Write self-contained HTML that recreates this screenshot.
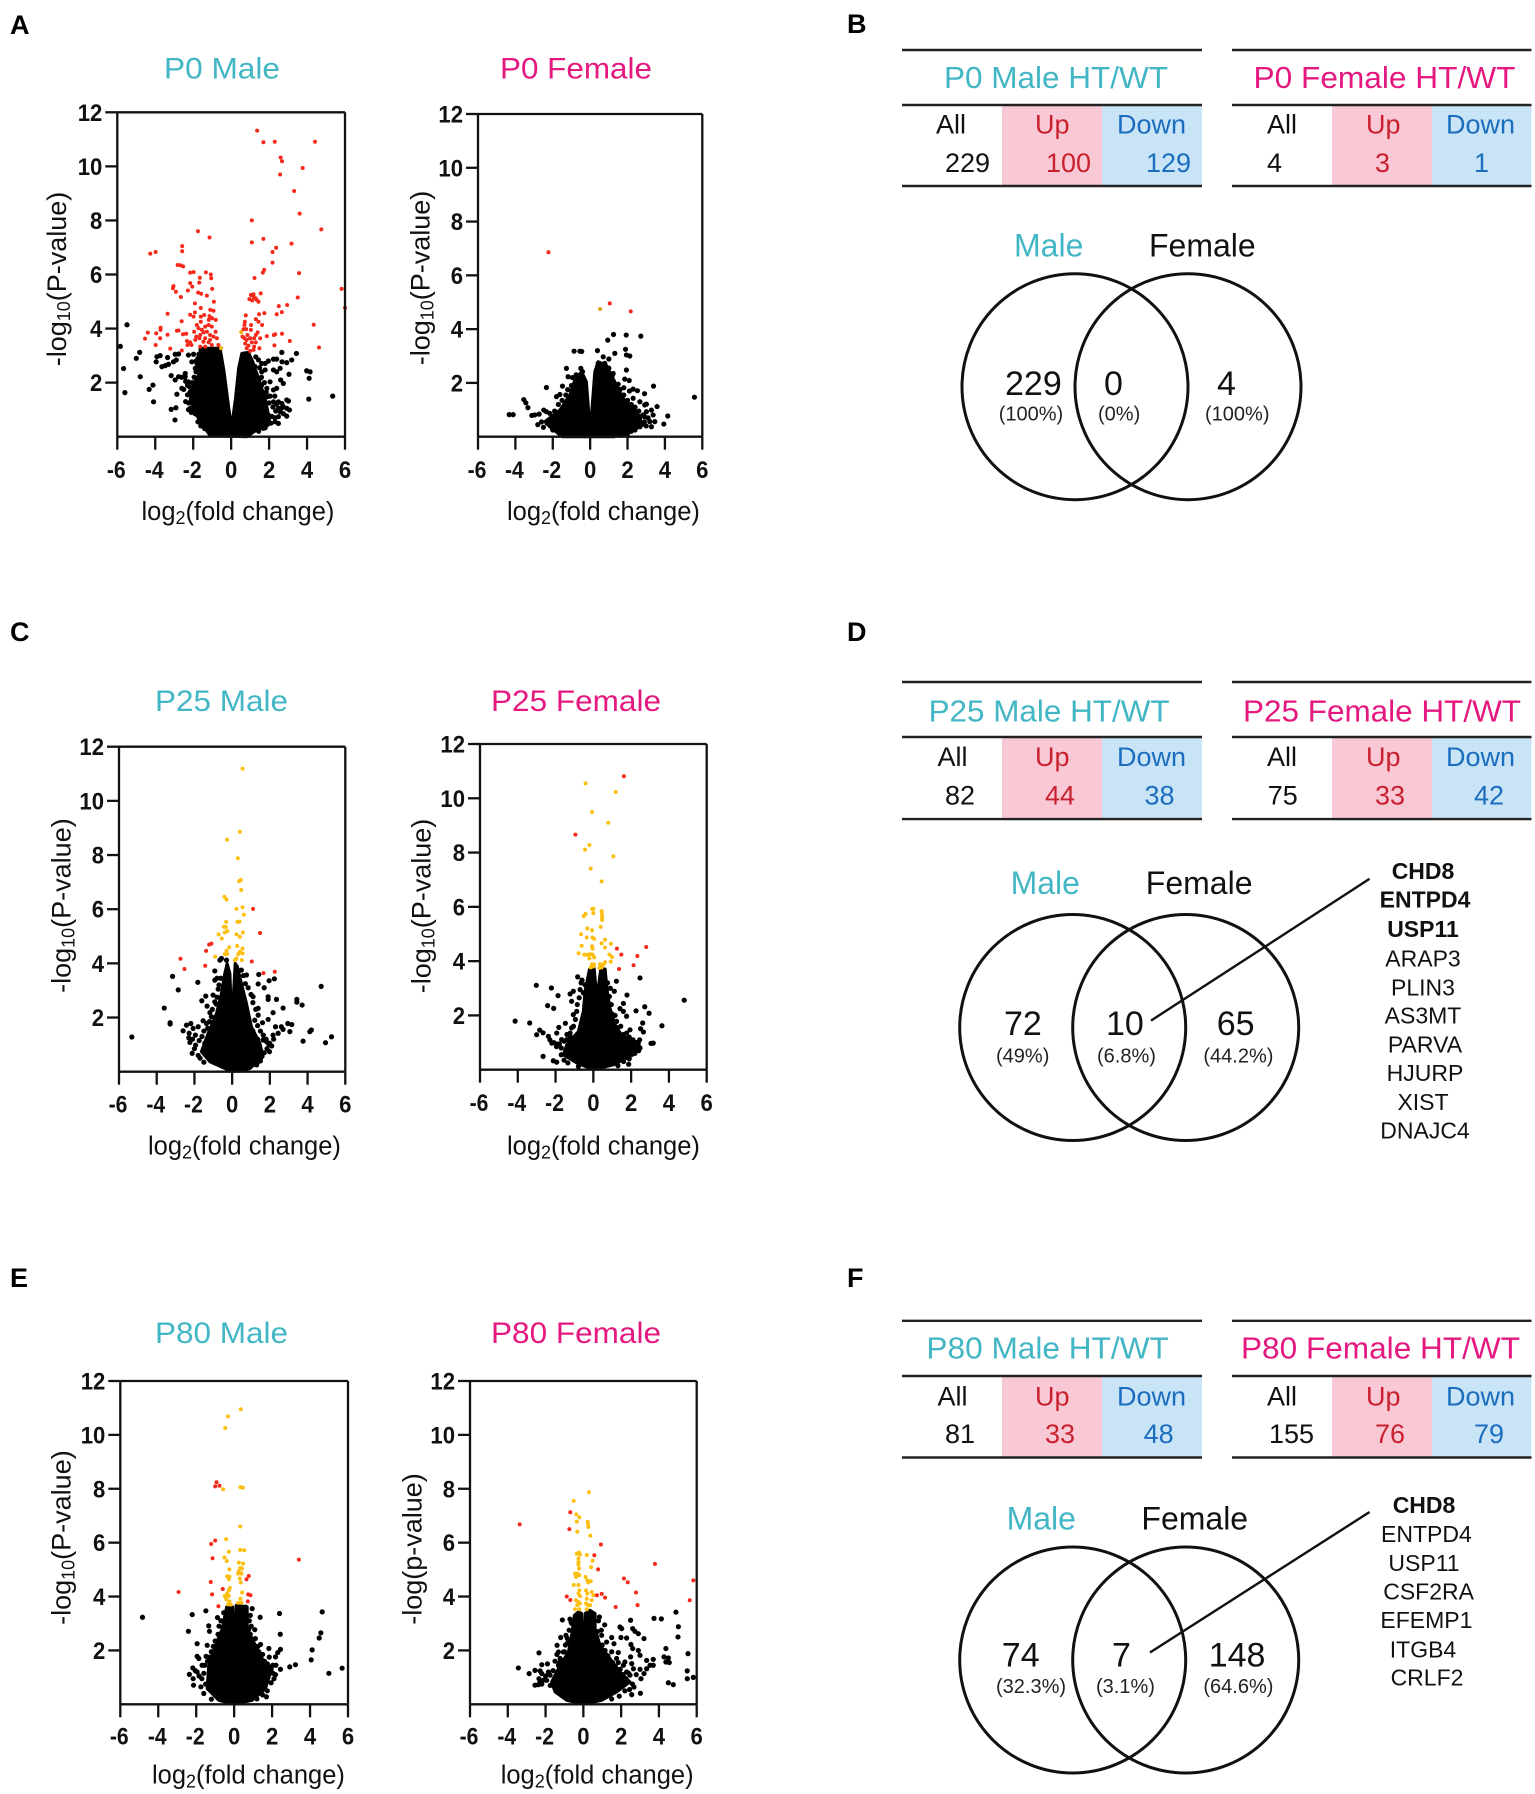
<!DOCTYPE html>
<html lang="en">
<head>
<meta charset="utf-8">
<title>Volcano plots and Venn diagrams</title>
<style>
html,body{margin:0;padding:0;background:#fff;}
svg{display:block;font-family:"Liberation Sans",Arial,sans-serif;}
.panel{font-size:27px;font-weight:bold;fill:#000;}
.t{font-size:30px;}
.tt{font-size:31px;}
.c{font-size:27px;}
.vh{font-size:32px;}
.vn{font-size:34px;fill:#111;}
.vp{font-size:20px;fill:#222;}
.g{font-size:23px;fill:#111;text-anchor:middle;}
.b{font-weight:bold;}
.ax{font-size:25.5px;fill:#111;}
.ay{font-size:27px;fill:#111;text-anchor:middle;}
.teal{fill:#42b6c4;}
.pink{fill:#e4187f;}
.red{fill:#c9202f;}
.blue{fill:#1b6dbd;}
.k{fill:#111;}
.ln{stroke:#222;stroke-width:2.4;}
.pk{fill:#f8c9d4;}
.bl{fill:#c9e3f7;}
.vc{fill:none;stroke:#111;stroke-width:3;}
.ld{stroke:#111;stroke-width:2.4;}
</style>
</head>
<body>
<svg id="figure" xmlns="http://www.w3.org/2000/svg" width="1535" height="1794" viewBox="0 0 1535 1794">
<rect x="0" y="0" width="1535" height="1794" fill="#fff"/>

<text class="panel" x="10" y="34">A</text>
<text class="panel" x="847" y="33">B</text>
<text class="panel" x="10" y="641">C</text>
<text class="panel" x="847" y="641">D</text>
<text class="panel" x="10" y="1287">E</text>
<text class="panel" x="847" y="1287">F</text>

<!-- Volcano titles and axis titles -->
<text class="t teal" x="164" y="78.5" textLength="116" lengthAdjust="spacingAndGlyphs">P0 Male</text>
<text class="t pink" x="500" y="78.5" textLength="152" lengthAdjust="spacingAndGlyphs">P0 Female</text>
<text class="t teal" x="155" y="711" textLength="133" lengthAdjust="spacingAndGlyphs">P25 Male</text>
<text class="t pink" x="491" y="711" textLength="170" lengthAdjust="spacingAndGlyphs">P25 Female</text>
<text class="t teal" x="155" y="1343" textLength="133" lengthAdjust="spacingAndGlyphs">P80 Male</text>
<text class="t pink" x="491" y="1343" textLength="170" lengthAdjust="spacingAndGlyphs">P80 Female</text>

<text class="ax" x="141.5" y="520">log<tspan font-size="18" dy="4">2</tspan><tspan dy="-4">(fold change)</tspan></text>
<text class="ax" x="507" y="520">log<tspan font-size="18" dy="4">2</tspan><tspan dy="-4">(fold change)</tspan></text>
<text class="ax" x="148" y="1154.4">log<tspan font-size="18" dy="4">2</tspan><tspan dy="-4">(fold change)</tspan></text>
<text class="ax" x="507" y="1154.4">log<tspan font-size="18" dy="4">2</tspan><tspan dy="-4">(fold change)</tspan></text>
<text class="ax" x="152" y="1783.7">log<tspan font-size="18" dy="4">2</tspan><tspan dy="-4">(fold change)</tspan></text>
<text class="ax" x="500.7" y="1783.7">log<tspan font-size="18" dy="4">2</tspan><tspan dy="-4">(fold change)</tspan></text>

<text class="ay" transform="translate(66,279) rotate(-90)">-log<tspan font-size="18" dy="4">10</tspan><tspan dy="-4">(P-value)</tspan></text>
<text class="ay" transform="translate(429.4,278) rotate(-90)">-log<tspan font-size="18" dy="4">10</tspan><tspan dy="-4">(P-value)</tspan></text>
<text class="ay" transform="translate(70.3,905.6) rotate(-90)">-log<tspan font-size="18" dy="4">10</tspan><tspan dy="-4">(P-value)</tspan></text>
<text class="ay" transform="translate(430.4,906) rotate(-90)">-log<tspan font-size="18" dy="4">10</tspan><tspan dy="-4">(P-value)</tspan></text>
<text class="ay" transform="translate(70.3,1537.6) rotate(-90)">-log<tspan font-size="18" dy="4">10</tspan><tspan dy="-4">(P-value)</tspan></text>
<text class="ay" transform="translate(421.7,1549) rotate(-90)">-log(p-value)</text>

<g id="charts"></g>

<!-- Panel B tables -->
<g transform="translate(0,1)">
<rect class="pk" x="1002" y="104" width="100" height="80"/>
<rect class="bl" x="1102" y="104" width="100" height="80"/>
<line class="ln" x1="902" x2="1202" y1="49" y2="49"/>
<line class="ln" x1="902" x2="1202" y1="104" y2="104"/>
<line class="ln" x1="902" x2="1202" y1="185" y2="185"/>
<text class="tt teal" x="944" y="87.2" textLength="224" lengthAdjust="spacingAndGlyphs">P0 Male HT/WT</text>
<text class="c k" x="936" y="132.6">All</text>
<text class="c red" x="1035" y="132.6">Up</text>
<text class="c blue" x="1117" y="132.6">Down</text>
<text class="c k" x="945" y="170.8">229</text>
<text class="c red" x="1046" y="170.8">100</text>
<text class="c blue" x="1146" y="170.8">129</text>
</g>
<g transform="translate(0,1)">
<rect class="pk" x="1332" y="104" width="100" height="80"/>
<rect class="bl" x="1432" y="104" width="99.5" height="80"/>
<line class="ln" x1="1232" x2="1531.5" y1="49" y2="49"/>
<line class="ln" x1="1232" x2="1531.5" y1="104" y2="104"/>
<line class="ln" x1="1232" x2="1531.5" y1="185" y2="185"/>
<text class="tt pink" x="1253.5" y="87.2" textLength="262" lengthAdjust="spacingAndGlyphs">P0 Female HT/WT</text>
<text class="c k" x="1267" y="132.6">All</text>
<text class="c red" x="1366" y="132.6">Up</text>
<text class="c blue" x="1446" y="132.6">Down</text>
<text class="c k" x="1267" y="170.8">4</text>
<text class="c red" x="1375" y="170.8">3</text>
<text class="c blue" x="1474" y="170.8">1</text>
</g>

<!-- Panel B venn -->
<g transform="translate(0,2)">
<circle class="vc" cx="1075" cy="384.7" r="113"/>
<circle class="vc" cx="1188" cy="384.7" r="113"/>
<text class="vh teal" x="1014" y="254.7">Male</text>
<text class="vh k" x="1149" y="254.7">Female</text>
<text class="vn" x="1005" y="393">229</text>
<text class="vn" x="1104" y="393">0</text>
<text class="vn" x="1217" y="393">4</text>
<text class="vp" x="998.7" y="418.5">(100%)</text>
<text class="vp" x="1098" y="418.5">(0%)</text>
<text class="vp" x="1205" y="418.5">(100%)</text>
</g>

<!-- Panel D tables -->
<g transform="translate(0,0.6)">
<rect class="pk" x="1002" y="737" width="100" height="81"/>
<rect class="bl" x="1102" y="737" width="100" height="81"/>
<line class="ln" x1="902" x2="1202" y1="681.4" y2="681.4"/>
<line class="ln" x1="902" x2="1202" y1="736.4" y2="736.4"/>
<line class="ln" x1="902" x2="1202" y1="818.5" y2="818.5"/>
<text class="tt teal" x="928.6" y="720.7" textLength="241" lengthAdjust="spacingAndGlyphs">P25 Male HT/WT</text>
<text class="c k" x="937.5" y="765.3">All</text>
<text class="c red" x="1035" y="765.3">Up</text>
<text class="c blue" x="1117" y="765.3">Down</text>
<text class="c k" x="945" y="803.9">82</text>
<text class="c red" x="1045" y="803.9">44</text>
<text class="c blue" x="1144.5" y="803.9">38</text>
</g>
<g transform="translate(0,0.6)">
<rect class="pk" x="1332" y="737" width="100" height="81"/>
<rect class="bl" x="1432" y="737" width="99.5" height="81"/>
<line class="ln" x1="1232" x2="1531.5" y1="681.4" y2="681.4"/>
<line class="ln" x1="1232" x2="1531.5" y1="736.4" y2="736.4"/>
<line class="ln" x1="1232" x2="1531.5" y1="818.5" y2="818.5"/>
<text class="tt pink" x="1243" y="720.7" textLength="278" lengthAdjust="spacingAndGlyphs">P25 Female HT/WT</text>
<text class="c k" x="1267" y="765.3">All</text>
<text class="c red" x="1366" y="765.3">Up</text>
<text class="c blue" x="1446" y="765.3">Down</text>
<text class="c k" x="1267.7" y="803.9">75</text>
<text class="c red" x="1375" y="803.9">33</text>
<text class="c blue" x="1474" y="803.9">42</text>
</g>

<!-- Panel D venn -->
<g>
<circle class="vc" cx="1072.7" cy="1027.5" r="113"/>
<circle class="vc" cx="1185.7" cy="1027.5" r="113"/>
<line class="ld" x1="1151" y1="1020.6" x2="1369.6" y2="878.8"/>
<text class="vh teal" x="1010.6" y="893.8">Male</text>
<text class="vh k" x="1145.8" y="893.8">Female</text>
<text class="vn" x="1004" y="1034.8">72</text>
<text class="vn" x="1106" y="1034.8">10</text>
<text class="vn" x="1216.7" y="1034.8">65</text>
<text class="vp" x="996" y="1062.7">(49%)</text>
<text class="vp" x="1097" y="1062.7">(6.8%)</text>
<text class="vp" x="1203.4" y="1062.7">(44.2%)</text>
<g>
<text class="g b" x="1423" y="878.8">CHD8</text>
<text class="g b" x="1425" y="907.4">ENTPD4</text>
<text class="g b" x="1423" y="937">USP11</text>
<text class="g" x="1423" y="966.3">ARAP3</text>
<text class="g" x="1423" y="995.6">PLIN3</text>
<text class="g" x="1423" y="1023.4">AS3MT</text>
<text class="g" x="1425" y="1052.7">PARVA</text>
<text class="g" x="1425" y="1081">HJURP</text>
<text class="g" x="1423" y="1109.8">XIST</text>
<text class="g" x="1425" y="1138.4">DNAJC4</text>
</g>
</g>

<!-- Panel F tables -->
<g>
<rect class="pk" x="1002" y="1377" width="100" height="80"/>
<rect class="bl" x="1102" y="1377" width="100" height="80"/>
<line class="ln" x1="902" x2="1202" y1="1320.8" y2="1320.8"/>
<line class="ln" x1="902" x2="1202" y1="1376" y2="1376"/>
<line class="ln" x1="902" x2="1202" y1="1457.5" y2="1457.5"/>
<text class="tt teal" x="926.4" y="1358.6" textLength="242.5" lengthAdjust="spacingAndGlyphs">P80 Male HT/WT</text>
<text class="c k" x="937.5" y="1405.5">All</text>
<text class="c red" x="1035" y="1405.5">Up</text>
<text class="c blue" x="1117" y="1405.5">Down</text>
<text class="c k" x="945" y="1443">81</text>
<text class="c red" x="1045" y="1443">33</text>
<text class="c blue" x="1143.6" y="1443">48</text>
</g>
<g>
<rect class="pk" x="1332" y="1377" width="100" height="80"/>
<rect class="bl" x="1432" y="1377" width="99.5" height="80"/>
<line class="ln" x1="1232" x2="1531.5" y1="1320.8" y2="1320.8"/>
<line class="ln" x1="1232" x2="1531.5" y1="1376" y2="1376"/>
<line class="ln" x1="1232" x2="1531.5" y1="1457.5" y2="1457.5"/>
<text class="tt pink" x="1241" y="1358.6" textLength="279" lengthAdjust="spacingAndGlyphs">P80 Female HT/WT</text>
<text class="c k" x="1267" y="1405.5">All</text>
<text class="c red" x="1366" y="1405.5">Up</text>
<text class="c blue" x="1446" y="1405.5">Down</text>
<text class="c k" x="1269" y="1443">155</text>
<text class="c red" x="1375" y="1443">76</text>
<text class="c blue" x="1474" y="1443">79</text>
</g>

<!-- Panel F venn -->
<g>
<circle class="vc" cx="1072.7" cy="1660" r="113"/>
<circle class="vc" cx="1185.7" cy="1660" r="113"/>
<line class="ld" x1="1150" y1="1652.5" x2="1369.6" y2="1512"/>
<text class="vh teal" x="1006.6" y="1529.3">Male</text>
<text class="vh k" x="1141.4" y="1529.3">Female</text>
<text class="vn" x="1001.8" y="1666.4">74</text>
<text class="vn" x="1112" y="1666.4">7</text>
<text class="vn" x="1208.7" y="1666.4">148</text>
<text class="vp" x="996" y="1693">(32.3%)</text>
<text class="vp" x="1096" y="1693">(3.1%)</text>
<text class="vp" x="1203.4" y="1693">(64.6%)</text>
<g>
<text class="g b" x="1424" y="1513">CHD8</text>
<text class="g" x="1426.4" y="1542.2">ENTPD4</text>
<text class="g" x="1424" y="1571">USP11</text>
<text class="g" x="1428.6" y="1599.4">CSF2RA</text>
<text class="g" x="1426.4" y="1628">EFEMP1</text>
<text class="g" x="1423" y="1657.7">ITGB4</text>
<text class="g" x="1427" y="1685.5">CRLF2</text>
</g>
</g>
</svg>

<script>
const xTickValues = [-6,-4,-2,0,2,4,6];
const yTickValues = [2,4,6,8,10,12];
const xTickLabels = ["-6","-4","-2","0","2","4","6"];
const yTickLabels = ["2","4","6","8","10","12"];

/* P0 Male: [log2FC, -log10 P] */
const p0MaleRed = [[1.37,11.32],[1.7,10.89],[2.3,10.91],[4.42,10.91],[2.61,10.33],[2.68,10.19],[3.77,9.94],[2.58,9.7],[3.32,9.09],[3.61,8.25],[1.09,8],[4.75,7.67],[1.7,7.32],[1.09,7.19],[3.18,7.14],[2.37,6.99],[2.18,6.83],[2.18,6.44],[1.74,6.17],[1.67,6.07],[3.58,6.05],[1.23,5.87],[5.82,5.47],[6,4.77],[1.56,5.3],[1.04,5.24],[1.18,5.18],[0.96,5.09],[1.28,5.12],[1.11,5.04],[1.44,4.99],[1.35,5.06],[1.18,5.27],[3.51,5.15],[2.95,4.87],[2.51,4.83],[2.67,4.61],[2.4,4.53],[1.75,4.57],[1.47,4.53],[0.77,4.49],[1.3,4.35],[1.44,4.25],[0.72,4.25],[0.7,4.13],[1.05,4.13],[1.63,4.13],[4.35,4.14],[0.79,3.98],[0.65,3.98],[1.04,3.95],[2.68,3.81],[2.25,3.76],[2.32,3.79],[1.88,3.72],[1.4,3.86],[1.3,3.76],[1.53,3.64],[0.86,3.76],[1,3.64],[0.7,3.64],[0.6,3.7],[0.82,3.58],[1.21,3.64],[1.09,3.49],[0.74,3.45],[0.91,3.37],[1.3,3.49],[2.28,3.38],[3.09,3.54],[4.63,3.3],[1.49,3.27],[1.18,3.21],[0.82,3.27],[1,3.17],[1.21,3.33],
[-1.75,7.6],[-1.14,7.37],[-2.58,7.05],[-2.58,6.86],[-4.26,6.77],[-3.98,6.83],[-2.82,6.35],[-2.67,6.34],[-2.53,6.3],[-1.98,6.09],[-2.16,6.07],[-1.33,6.08],[-1.07,6],[-1.05,5.86],[-1.65,5.88],[-1.68,5.7],[-2.16,5.68],[-2.05,5.55],[-3.04,5.57],[-3.07,5.49],[-2.91,5.36],[-2.28,5.41],[-1,5.47],[-1.74,5.33],[-1.58,5.29],[-1.28,5.22],[-2.65,5.17],[-1.91,4.93],[-0.91,4.99],[-1.6,4.76],[-1.1,4.69],[-0.93,4.66],[-3.35,4.55],[-2.16,4.51],[-1.98,4.44],[-1.42,4.5],[-1.6,4.44],[-1,4.38],[-1.14,4.46],[-1.91,4.6],[-1.18,4.32],[-1.6,4.25],[-2.61,4.27],[-3.72,4.03],[-3.72,3.95],[-4.39,3.85],[-3.95,3.82],[-4.54,3.63],[-3.74,3.64],[-3.35,3.77],[-3.98,3.39],[-2.86,3.92],[-2.77,3.93],[-2.54,3.79],[-2.37,3.81],[-3.21,3.26],[-2.6,3.19],[-2.33,3.54],[-2.16,3.49],[-2.3,3.39],[-2.09,3.39],[-1.81,4.13],[-1.72,4.01],[-1.54,3.95],[-1.37,4.07],[-1.19,4.13],[-1.02,4.07],[-0.81,4.32],[-1.28,3.88],[-1.11,3.76],[-0.93,3.7],[-0.75,3.64],[-1.46,3.86],[-1.63,3.76],[-1.84,3.7],[-1.89,3.58],[-1.67,3.64],[-1.37,3.64],[-1.19,3.49],[-1.02,3.39],[-1.63,3.33],[-1.37,3.33],[-0.67,3.39],[-1.46,3.51],[-1.11,3.58],[-1.95,3.88],[-0.82,3.88]];
const p0MaleYellow = [[0.53,3.87],[-0.53,3.27]];
const p0MaleBlack = [[-5.49,4.14],[-5.84,3.34],[-4.82,3.12],[-5,2.9],[-5.67,2.52],[-4.79,2.22],[-5.6,1.63],[-4.12,1.91],[-4.32,1.75],[-4.09,1.29],[-3.91,2.96],[-3.74,3],[-3.95,2.77],[-3.35,2.93],[-3.65,2.59],[-3.47,2.63],[-3.3,2.68],[-2.95,3.05],[-2.77,3.06],[-3.04,2.77],[-2.89,2.84],[-3.16,2.26],[-2.95,2.1],[-2.77,2.22],[-2.42,2.34],[-2.6,1.79],[-2.86,1.57],[-3.16,1.01],[-2.91,1.07],[-2.96,0.62],[-2.25,3.02],[-1.98,3.05],[-2.07,2.77],[-1.89,2.53],[-1.72,2.59],[-2.25,2.03],[-2.16,1.66],[-2.42,2.22],[-1.98,1.11],[-2.16,1.05],[-1.77,0.8],[-1.54,0.68],[1.79,2.71],[1.96,2.8],[2.23,2.87],[2.4,2.87],[1.79,2.47],[2.23,2.47],[2.67,3.12],[2.68,2.77],[3.19,2.84],[2.93,2.74],[3.44,3.08],[2.58,2.53],[2.4,2.4],[3.05,2.31],[2.05,2.03],[2.61,2.1],[2.75,1.97],[2.4,1.79],[2.23,1.73],[1.91,1.48],[3.98,2.44],[4.16,2.4],[4.11,2.16],[4.09,1.39],[5.35,1.5],[2.49,1.29],[2.67,1.23],[2.93,1.36],[3.02,1.32],[2.75,1.11],[2.93,1.05],[3.07,0.99],[2.58,0.92],[2.93,0.76],[2.49,0.74],[2.32,0.55],[2.49,0.49],[1.79,0.33],[1.7,0.31],[1.61,2.4],[1.53,2.16],[1.44,2.84],[1.61,2.71],[1.88,1.79],[2.23,1.29],[1.96,0.8]];
const p0MaleFringe = [[-2.6,2.2],[-2.4,2.05],[-2.3,1.9],[-2.5,1.75],[-2.2,1.85],[-2.05,2],[-1.95,2.2],[-1.85,2.4],[-2,1.6],[-2.3,1.55],[-2.1,1.4],[-2.25,1.25],[-2.4,1.3],[-2,1],[-1.9,0.85],[-1.75,0.55],[-1.6,0.4],[-1.4,0.3],[-2.1,0.9],[-2.25,1],[-1.8,2.7],[-1.75,2.9],[-1.7,3.05],[-1.85,2.8],[1.3,2.95],[1.25,2.6],[1.5,2.55],[1.6,2.2],[1.75,2],[1.6,1.9],[1.85,1.65],[2.05,1.5],[2,1.25],[2.2,1.1],[2.35,0.95],[2.3,1.5],[2.5,1.05],[2.15,0.75],[2.3,0.7],[2.1,0.5],[1.9,0.45],[1.6,0.35],[1.45,0.2],[2.65,1.05],[2.75,0.85],[2.4,1.2]];
const p0MaleCore = [[-1.11,0.04],[-1.63,0.55],[-2.07,1.17],[-2.16,1.66],[-1.72,2.28],[-1.63,3.27],[-0.58,3.27],[-0.37,2.4],[-0.19,1.42],[-0.04,0.62],[0.07,0.62],[0.23,1.42],[0.39,2.53],[0.56,3.08],[0.91,3.12],[1.14,2.77],[1.44,2.16],[1.79,1.42],[2.02,0.62],[1.35,0.25],[0.82,0]];

/* P0 Female */
const p0FemaleRed = [[-2.23,6.86],[1.05,4.96],[2.17,4.66]];
const p0FemaleYellow = [[0.53,4.75]];
const p0FemaleBlack = [[1.25,3.8],[1.93,3.78],[2.71,3.74],[0.94,3.59],[-0.86,3.18],[-0.55,3.18],[-0.45,3.17],[0.39,3.2],[1.89,3.25],[1.32,3.1],[1.94,3.04],[2.12,3],[0.7,2.97],[1,2.89],[0.43,2.73],[0.78,2.73],[-1.27,2.54],[-0.5,2.54],[-0.41,2.42],[1.94,2.48],[-1.18,2.23],[-0.73,2.29],[1.23,2.35],[1.85,2.14],[2.09,2.09],[3.39,1.88],[-1.48,1.88],[-2.34,1.83],[1.8,1.82],[2.3,1.77],[2.53,1.71],[2.91,1.6],[5.58,1.47],[-1.62,1.57],[-1.8,1.49],[-3.55,1.38],[-3.44,1.26],[-3.33,1.08],[-4.33,0.82],[-4.12,0.82],[-3.12,0.79],[-2.96,0.81],[-2.73,0.84],[-2.48,0.99],[-2.34,0.93],[-2.16,0.87],[2.3,1.43],[2.66,1.3],[3.01,1.21],[2.92,1.18],[3.58,1.12],[3.28,0.99],[3.01,0.93],[2.83,0.81],[2.92,0.74],[3.37,0.81],[4.15,0.77],[3.94,0.47],[3.19,0.56],[3.28,0.37],[3.46,0.56],[2.66,0.37]];
const p0FemaleFringe = [[-2.3,0.5],[-2,0.75],[-1.9,0.95],[-1.7,1.2],[-1.5,1.35],[-1.3,1.55],[-1.2,1.75],[-1,1.9],[-0.95,2.2],[-0.75,2.3],[-2.6,0.55],[-2.8,0.45],[-2.5,0.35],[-2,0.25],[-1.5,0.12],[1.5,1.95],[1.6,1.75],[1.8,1.55],[2,1.35],[2.2,1.2],[2.4,1.1],[2.6,0.95],[2.7,0.75],[2.5,0.6],[2.9,0.55],[3,0.4],[2.4,0.25],[2,0.12],[1.2,2.3],[1,2.55],[1.1,2.1],[2.1,1.7],[1.7,1.25],[3.1,0.7],[2.2,0.2],[1.6,0.05]];
const p0FemaleCore = [[-2.42,0.56],[-1.62,0.99],[-1.09,1.55],[-0.82,2.11],[-0.46,2.42],[-0.2,2.04],[-0.05,0.68],[0.07,0.81],[0.25,2.42],[0.43,2.79],[0.87,2.66],[1.41,1.92],[1.76,1.43],[2.48,0.93],[2.83,0.43],[1.94,0.12],[1.3,0],[-1.5,0],[-2.16,0.37]];

/* P25 Male */
const p25MaleRed = [[1.11,6.01],[1.48,5.12],[-1.1,4.73],[-1.22,4.69],[-1.38,4.46],[-2.74,4.17],[-2.53,3.79],[-1.43,3.91],[1.04,4.07],[1.66,3.64],[2.26,3.69]];
const p25MaleYellow = [[0.55,11.19],[0.41,8.86],[-0.27,8.57],[0.3,7.88],[0.46,7.08],[0.37,7.03],[0.48,6.71],[-0.41,6.46],[-0.3,6.36],[0.55,6.07],[0.23,6.01],[0.62,5.8],[-0.32,5.53],[0.28,5.53],[0.39,5.54],[-0.44,5.35],[-0.34,5.34],[-0.25,5.19],[-0.39,5.14],[0.57,5.14],[0.23,5.07],[0.41,4.98],[-0.72,5.07],[-0.55,4.92],[0.27,4.64],[-0.16,4.59],[0.55,4.55],[-0.3,4.46],[-0.39,4.34],[-0.27,4.34],[0.41,4.43],[0.32,4.34],[0.55,4.37],[-0.9,4.25],[0.23,4.18],[0.14,4.12],[0.51,4.12]];
const p25MaleBlack = [[-3.16,3.52],[-2.86,3.02],[-1.82,3.3],[-3.6,2.35],[-3.29,1.81],[-3.29,1.76],[-5.32,1.28],[4.72,3.15],[3.43,2.67],[3.43,2.57],[3.71,2.46],[3.76,1.13],[4.2,1.54],[4.12,1.48],[5.27,1.29],[4.95,1.07],[1.41,3.59],[1.96,3.36],[2.24,3.43],[1.38,3.24],[1.7,3.1],[1.91,2.77],[1.91,2.67],[2.35,2.67],[2.7,2.35],[2.17,2.18],[1.91,1.93],[2.95,1.78],[3.16,1.74],[2.61,1.66],[2.7,1.56],[3.06,1.48],[2.3,1.66],[2.44,1.42],[2.17,1.35],[1.11,2.77],[1.38,2.34],[1.38,2.09],[1.61,1.81],[0.49,3.75],[0.76,3.57],[-0.92,3.72],[-0.92,3.38],[-0.8,3.45],[-0.65,4.12],[-0.57,4.18],[-0.3,4.12],[-0.74,3.05],[-1.01,2.83],[-1.4,2.79],[-1.61,2.62],[-1.33,2.42],[-0.92,2.58],[-1.18,2.18],[-1.54,1.88],[-2.19,1.78],[-2.42,1.72],[-1.8,1.66],[-2.07,1.6],[-2.6,1.51],[-2.28,1.42],[-2.24,1.08],[-1.94,0.98],[-2.12,0.68],[1.99,1.05],[1.82,1.11],[1.64,1.17],[1.98,0.74],[1.38,0.37],[-1.1,2.03],[-1.36,1.78]];
const p25MaleFringe = [[-2.3,1.25],[-2.1,1.2],[-1.95,1.35],[-1.75,1.15],[-1.6,1.3],[-1.5,1.5],[-1.45,1.05],[-1.3,1.6],[-1.2,1.85],[-1,1.65],[-1.05,2.3],[-0.9,2],[-0.85,2.5],[-0.8,2.75],[-0.7,3.2],[-0.6,3.45],[-2,0.85],[-1.8,0.6],[-1.7,0.5],[-1.5,0.35],[1.25,2.3],[1.1,2.55],[1,2.85],[0.85,3.1],[0.7,3.25],[0.6,3.55],[1.2,1.9],[1.35,1.7],[1.5,1.5],[1.65,1.35],[1.8,1.2],[1.95,1],[1.85,0.85],[1.7,0.7],[1.5,0.4],[1.3,0.25],[1.35,1.2],[1.1,1.5],[2.1,0.95],[2.2,1.2]];
const p25MaleCore = [[0,0],[-1.18,0.37],[-1.63,0.74],[-1.27,1.42],[-0.83,2.15],[-0.57,2.89],[-0.39,3.63],[-0.27,4],[-0.12,3.63],[-0.05,2.4],[0.02,1.78],[0.07,2.89],[0.16,4],[0.28,3.88],[0.49,3.26],[0.76,2.52],[1.02,1.66],[1.47,1.05],[1.64,0.55],[0.94,0.12]];

/* P25 Female */
const p25FemaleRed = [[1.62,10.81],[-0.95,8.66],[1.25,4.46],[1.48,4.24],[2.8,4.52],[2.33,4.19],[2.13,3.85],[1.36,3.71]];
const p25FemaleYellow = [[-0.41,10.55],[1.18,10.23],[-0.07,9.5],[0.79,9.1],[-0.21,8.28],[-0.44,8.11],[1.06,7.86],[-0.14,7.41],[0.44,6.94],[-0.05,5.92],[0,5.93],[0.44,5.84],[0.46,5.71],[0.46,5.61],[0.46,5.52],[-0.41,5.74],[-0.51,5.66],[0,5.77],[0.39,5.26],[-0.32,5.2],[-0.07,5.14],[-0.65,4.99],[-0.35,4.87],[-0.04,4.87],[0.04,4.82],[0.62,4.79],[0.44,4.66],[0.93,4.64],[0.62,4.5],[-0.62,4.56],[-0.07,4.55],[-0.04,4.46],[-0.78,4.29],[-0.48,4.24],[-0.32,4.23],[-0.18,4.26],[-0.04,4.24],[0.04,4.14],[-0.21,4.1],[0.85,4.24],[0.99,4.15],[0.92,3.98],[0.62,3.96],[-0.07,3.89],[0.04,3.87],[-0.14,3.77],[0,3.8],[0.35,3.89],[0.44,3.77],[0.53,3.87],[0.32,3.75]];
const p25FemaleBlack = [[-0.83,3.42],[2.47,3.38],[1.22,3.26],[-3.02,3.11],[-2.22,3.01],[-1.87,2.73],[4.81,2.56],[1.78,2.75],[1.11,2.89],[1.59,2.44],[2.72,2.32],[2.95,2.08],[2.26,2.17],[-2.42,2.36],[-2.1,2.26],[-4.14,1.79],[-3.37,1.72],[-1.83,1.56],[-1.48,1.71],[-1.94,1.35],[-2.84,1.46],[-3,1.29],[-2.66,1.36],[3.63,1.62],[2.61,1.72],[2.5,1.51],[2.65,1.39],[3.05,0.97],[3.17,0.98],[-2.66,0.49],[-2.12,0.33],[-1.94,0.28],[1.87,0.2],[-1.23,1.35],[-1.15,1.54],[-2.38,1.23],[-2.2,0.98],[-1.94,0.95],[-1.68,1.11],[-1.41,1.11],[-1.15,2.52],[-1.23,2.79],[-1.06,2.89],[-1.06,2.03],[-0.88,2.15],[-0.44,3.13],[-0.53,2.83],[1.59,2.15],[1.41,2.25],[1.76,1.97],[1.23,1.78],[1.06,1.66],[1.94,1.47],[1.76,1.35],[1.59,1.29],[2.38,0.98],[2.47,0.8],[2.2,0.86],[1.94,0.61],[-0.79,0.12]];
const p25FemaleFringe = [[-2.3,1.1],[-2.1,1],[-1.95,0.85],[-1.8,0.95],[-1.7,0.8],[-1.55,1.05],[-1.4,1.3],[-1.2,1.2],[-1.05,1.6],[-0.95,1.85],[-0.85,2.4],[-0.75,2.65],[-0.7,2.95],[-0.65,3.2],[-0.6,3.3],[-1.7,0.55],[-1.55,0.35],[-1.35,0.25],[0.85,2.7],[0.95,2.4],[1,2.05],[1.15,2],[1.25,1.55],[1.45,1.6],[1.6,1.3],[1.75,1.15],[1.9,1.2],[2.1,1.1],[2.3,1],[2.45,1.1],[2.4,0.7],[2.2,0.6],[1.9,0.4],[1.6,0.3],[1.3,0.15],[1.05,1.2],[0.9,3],[0.75,3.2]];
const p25FemaleCore = [[0,0],[-0.88,0.25],[-1.59,0.55],[-1.41,0.92],[-0.79,1.41],[-0.53,2.15],[-0.44,2.89],[-0.21,3.69],[0.04,3.75],[0.14,3.01],[0.19,1.54],[0.26,3.01],[0.39,3.71],[0.62,3.71],[0.74,2.89],[0.88,2.27],[1.15,1.66],[1.59,1.17],[2.47,0.86],[2.12,0.55],[1.06,0.18]];

/* P80 Male */
const p80MaleRed = [[-0.93,8.24],[-1,8.09],[-0.77,8.11],[-1.21,5.95],[-1,6.08],[-1.14,5.42],[3.41,5.37],[0.77,4.76],[0.65,4.64],[-1.23,4.54],[-2.93,4.17],[-1.16,4.08],[-0.6,4.28],[0.74,4.08],[0.86,4.05],[0.72,3.82],[-0.83,3.64]];
const p80MaleYellow = [[0.35,10.95],[-0.32,10.68],[-0.47,10.26],[-0.58,7.98],[0.33,8.06],[0.46,8.04],[0.32,6.6],[-0.42,6.13],[0.32,5.73],[0.53,5.72],[-0.28,5.66],[-0.51,5.45],[-0.39,5.32],[0.25,5.26],[0.47,5.22],[-0.25,5.01],[0.32,5.06],[0.25,4.94],[0.42,5.04],[0.21,4.85],[0.39,4.85],[0.3,4.67],[0.35,4.52],[-0.37,4.75],[-0.25,4.74],[-0.28,4.64],[-0.23,4.32],[-0.28,4.23],[-0.37,4.11],[-0.49,4.02],[-0.28,4.02],[-0.42,3.9],[-0.25,3.82],[-0.32,3.71],[-0.18,3.7],[0.42,4.15],[0.33,3.92],[0.21,3.77],[0.39,3.77]];
const p80MaleBlack = [[-4.83,3.23],[-2.21,3.33],[-1.49,3.47],[-0.88,3.22],[-2.41,2.71],[-1.34,2.91],[-1.3,2.71],[-1.95,2.25],[-1.42,2.19],[-1.95,1.78],[-1.86,1.7],[-1.48,1.78],[-1.69,1.45],[-2.18,1.35],[-2.36,1.11],[-1.95,1.2],[-2.16,0.95],[-2.14,0.71],[-1.2,0.19],[1.7,0.28],[2.39,3.37],[1.37,3.23],[4.64,3.43],[4.57,2.65],[4.48,2.46],[2.43,2.6],[2.44,2.04],[4.11,2.02],[4.06,1.65],[1.83,2.07],[3.23,1.47],[2.93,1.39],[2.44,1.3],[4.99,1.15],[5.69,1.34],[0.95,3.55],[0.6,3.61],[0.77,2.78],[1.09,2.77],[1.12,2.44],[1.39,2.22],[2.18,1.76],[2.3,1.92],[2.04,1.45],[1.83,1.39],[1.74,1.2],[2.18,1.1]];
const p80MaleFringe = [[-2.05,1.25],[-1.85,1.05],[-1.7,0.95],[-1.6,1.15],[-1.5,0.75],[-1.55,1.45],[-1.4,1.6],[-1.3,1.75],[-1.2,1.95],[-1.1,2.15],[-1,2.35],[-0.85,2.6],[-0.8,2.9],[-0.7,3.1],[-0.55,3.4],[-1.75,0.65],[-1.6,0.4],[0.8,3.1],[0.85,3.3],[0.9,2.9],[0.85,2.6],[1,2.4],[1.25,2.15],[1.3,1.95],[1.5,1.85],[1.6,1.6],[1.75,1.5],[1.85,1.75],[1.95,1.3],[2.05,1.15],[2.1,0.95],[1.95,0.8],[1.75,0.5],[1.5,0.35],[1.2,0.2],[2.2,1.45]];
const p80MaleCore = [[0,0],[-0.81,0.15],[-1.42,0.58],[-1.34,1.45],[-0.98,2.19],[-0.63,2.81],[-0.4,3.61],[-0.07,3.61],[-0.02,2.07],[0.04,2.07],[0.11,3.68],[0.69,3.61],[0.69,2.81],[1.12,2.19],[1.48,1.7],[1.92,1.2],[1.65,0.58],[0.95,0.15]];

/* P80 Female */
const p80FemaleRed = [[-3.37,6.68],[-0.69,7.13],[-0.74,6.5],[0.93,5.93],[0.58,5.53],[0.78,5.01],[3.79,5.21],[2.15,4.67],[2.35,4.53],[5.82,4.6],[2.79,4.15],[-0.88,4],[-0.69,3.87],[0.72,4.05],[0.97,4.1],[1.15,3.96],[2.87,3.68],[1.71,3.61],[5.63,3.86]];
const p80FemaleYellow = [[0.3,7.87],[-0.51,7.55],[-0.37,7.05],[-0.21,6.94],[-0.35,6.78],[0.23,6.77],[0.25,6.68],[0.26,6.58],[-0.32,6.41],[0.37,6.26],[-0.35,5.59],[-0.23,5.63],[-0.18,5.56],[0.18,5.54],[0.49,5.33],[-0.26,5.41],[-0.26,5.28],[-0.26,5.19],[-0.23,5.04],[0.41,5.09],[-0.44,4.85],[-0.32,4.85],[-0.39,4.73],[-0.21,4.79],[0.12,4.73],[0.21,4.6],[0.26,4.52],[0.39,4.57],[-0.51,4.43],[-0.26,4.43],[-0.21,4.23],[-0.26,4.11],[-0.18,4.02],[-0.39,3.86],[-0.26,3.8],[-0.44,3.53],[-0.32,3.68],[-0.21,3.53],[-0.18,3.74],[0.14,4.23],[0.21,4.11],[0.18,3.92],[0.14,3.74],[0.26,3.68],[0.18,3.53],[0.44,4.17],[0.53,4.05],[0.44,3.86],[0.35,3.68]];
const p80FemaleBlack = [[-1.11,3.13],[-0.71,3.16],[-0.62,3],[0.85,3.24],[1.13,2.95],[2.5,3.12],[3.74,3.19],[4.13,3.17],[4.9,3.42],[5.03,2.88],[5.01,2.5],[1.94,2.87],[2.03,2.81],[1.99,2.48],[2.29,2.46],[2.61,2.81],[2.73,2.71],[2.91,2.62],[3.21,2.44],[1.5,2.48],[1.23,2.31],[1.62,2.25],[0.97,2.56],[2.52,2.22],[2.61,2.07],[1.85,1.92],[2.91,2],[3,1.82],[4.37,2.07],[4.27,1.76],[4.5,1.72],[4.37,1.57],[4.55,1.55],[5.54,1.88],[3.7,1.67],[3.7,1.45],[3.53,1.45],[3.35,1.32],[3.21,1.14],[3.35,1.63],[2.5,1.76],[2.56,1.51],[2.65,1.32],[2.2,1.57],[1.76,1.7],[2.12,1.45],[5.5,1.24],[5.5,0.95],[5.82,1],[4.5,0.8],[4.76,0.73],[2.68,0.64],[2.56,0.36],[3.02,0.41],[2.29,1.2],[2.47,1.08],[-0.92,2.56],[-1.2,2.48],[-1.39,2.19],[-0.83,2.28],[-2.35,1.91],[-1.32,1.94],[-1.06,1.94],[-1.9,1.5],[-2.2,1.47],[-3.44,1.35],[-2.87,1.14],[-2.56,1.26],[-2.29,1.24],[-2.2,1.14],[-2.38,0.73],[-2.56,0.71],[-2.29,0.83],[-1.76,1.08],[-1.94,0.89],[-1.23,1.7],[-1.32,1.45],[-1.15,1.39]];
const p80FemaleFringe = [[-2.1,0.9],[-2,1.05],[-1.85,1.2],[-1.75,0.7],[-1.6,1.25],[-1.5,1.6],[-1.4,1.85],[-1.25,1.55],[-1,1.95],[-0.95,2.2],[-0.85,2.45],[-0.75,2.75],[-0.65,3.05],[-2.35,0.95],[-2.2,0.75],[0.8,3.1],[0.75,2.7],[0.95,2.75],[1,2.2],[1.15,2],[1.3,1.8],[1.5,1.95],[1.55,1.55],[1.7,1.4],[1.85,1.55],[1.95,1.3],[2.1,1.1],[2.25,0.95],[2.4,1.15],[2.6,0.75],[2.45,0.55],[2.2,0.5],[1.9,0.3],[1.5,0.2],[2.8,1.1],[3,1.3],[3.05,0.95]];
const p80FemaleCore = [[0,0],[-0.88,0.15],[-1.5,0.46],[-1.68,0.83],[-1.23,1.45],[-0.79,1.94],[-0.62,2.56],[-0.48,3.3],[-0.26,3.43],[-0.09,3.37],[-0.04,2.07],[0.04,2.07],[0.09,3.37],[0.35,3.49],[0.62,3.37],[0.62,2.81],[0.88,2.19],[1.41,1.7],[1.94,1.2],[2.47,0.83],[1.76,0.46],[0.97,0.15]];

const NS = "http://www.w3.org/2000/svg";
const chartRoot = document.getElementById("charts");

function labelWidth(str) {
  let width = 0;
  for (const ch of str) { width += ch === "-" ? 6.5 : 12.3; }
  return width;
}

function drawVolcano(name, box, black, fringe, core, red, yellow, yellowColor) {
  const group = document.createElementNS(NS, "g");
  
  
  chartRoot.appendChild(group);

  const xScale = function (v) { return box.left + (v + 6) / 12 * (box.right - box.left); };
  const yScale = function (v) { return box.bottom - v / 12 * (box.bottom - box.top); };

  const corePath = document.createElementNS(NS, "path");
  corePath.setAttribute("d", "M" + core.map(function (p) { return xScale(p[0]).toFixed(1) + " " + yScale(p[1]).toFixed(1); }).join("L") + "Z");
  corePath.setAttribute("fill", "#000");
  corePath.setAttribute("stroke", "#000");
  corePath.setAttribute("stroke-width", "3");
  corePath.setAttribute("stroke-linejoin", "round");
  
  
  group.appendChild(corePath);

  function dots(points, radius, colour, label) {
    points.forEach(function (p) {
      const dot = document.createElementNS(NS, "circle");
      dot.setAttribute("cx", xScale(p[0]).toFixed(2));
      dot.setAttribute("cy", yScale(p[1]).toFixed(2));
      dot.setAttribute("r", radius);
      dot.setAttribute("fill", colour);
      
      
      group.appendChild(dot);
    });
  }
  dots(black, 2.6, "#000", "not-significant-point");
  dots(fringe, 2.6, "#000", "not-significant-point");
  dots(yellow, 2, yellowColor, "significant-small-change-point");
  dots(red, 2, "#f5291a", "significant-point");

  function segment(x1, y1, x2, y2, label) {
    const ln = document.createElementNS(NS, "line");
    ln.setAttribute("x1", x1); ln.setAttribute("y1", y1);
    ln.setAttribute("x2", x2); ln.setAttribute("y2", y2);
    ln.setAttribute("stroke", "#111");
    ln.setAttribute("stroke-width", "2.3");
    
    
    group.appendChild(ln);
  }
  segment(box.left, box.top, box.left, box.bottom, "y-axis");
  segment(box.left, box.bottom, box.right, box.bottom, "x-axis");
  segment(box.left, box.top, box.right, box.top, "top-border");
  segment(box.right, box.top, box.right, box.bottom, "right-border");

  xTickValues.forEach(function (v, i) {
    const px = xScale(v);
    segment(px, box.bottom, px, box.bottom + 13, "x-tick");
    const label = document.createElementNS(NS, "text");
    label.textContent = xTickLabels[i];
    label.setAttribute("x", px - (v < 0 ? 1 : 0));
    label.setAttribute("y", box.xLabelY);
    label.setAttribute("text-anchor", "middle");
    label.setAttribute("font-size", "24");
    label.setAttribute("font-weight", "bold");
    label.setAttribute("fill", "#111");
    label.setAttribute("textLength", labelWidth(xTickLabels[i]));
    label.setAttribute("lengthAdjust", "spacingAndGlyphs");
    
    
    group.appendChild(label);
  });
  yTickValues.forEach(function (v, i) {
    const py = yScale(v);
    segment(box.left - 12, py, box.left, py, "y-tick");
    const label = document.createElementNS(NS, "text");
    label.textContent = yTickLabels[i];
    label.setAttribute("x", box.left - 15);
    label.setAttribute("y", py + 8.5);
    label.setAttribute("text-anchor", "end");
    label.setAttribute("font-size", "24");
    label.setAttribute("font-weight", "bold");
    label.setAttribute("fill", "#111");
    label.setAttribute("textLength", labelWidth(yTickLabels[i]));
    label.setAttribute("lengthAdjust", "spacingAndGlyphs");
    
    
    group.appendChild(label);
  });
}

drawVolcano("p0-male", {left:117.3,right:345,top:112.3,bottom:436.7,xLabelY:478}, p0MaleBlack, p0MaleFringe, p0MaleCore, p0MaleRed, p0MaleYellow, "#e8b30f");
drawVolcano("p0-female", {left:478,right:702.3,top:114,bottom:436.7,xLabelY:478}, p0FemaleBlack, p0FemaleFringe, p0FemaleCore, p0FemaleRed, p0FemaleYellow, "#dd9f18");
drawVolcano("p25-male", {left:119,right:345.3,top:746.7,bottom:1071.7,xLabelY:1112.7}, p25MaleBlack, p25MaleFringe, p25MaleCore, p25MaleRed, p25MaleYellow, "#fdbf0f");
drawVolcano("p25-female", {left:480,right:706.7,top:744,bottom:1069.7,xLabelY:1111}, p25FemaleBlack, p25FemaleFringe, p25FemaleCore, p25FemaleRed, p25FemaleYellow, "#fdbf0f");
drawVolcano("p80-male", {left:120.3,right:348,top:1381,bottom:1704.3,xLabelY:1744.5}, p80MaleBlack, p80MaleFringe, p80MaleCore, p80MaleRed, p80MaleYellow, "#fdbf0f");
drawVolcano("p80-female", {left:470,right:696.7,top:1381,bottom:1704.3,xLabelY:1744.5}, p80FemaleBlack, p80FemaleFringe, p80FemaleCore, p80FemaleRed, p80FemaleYellow, "#fdbf0f");
</script>
</body>
</html>
